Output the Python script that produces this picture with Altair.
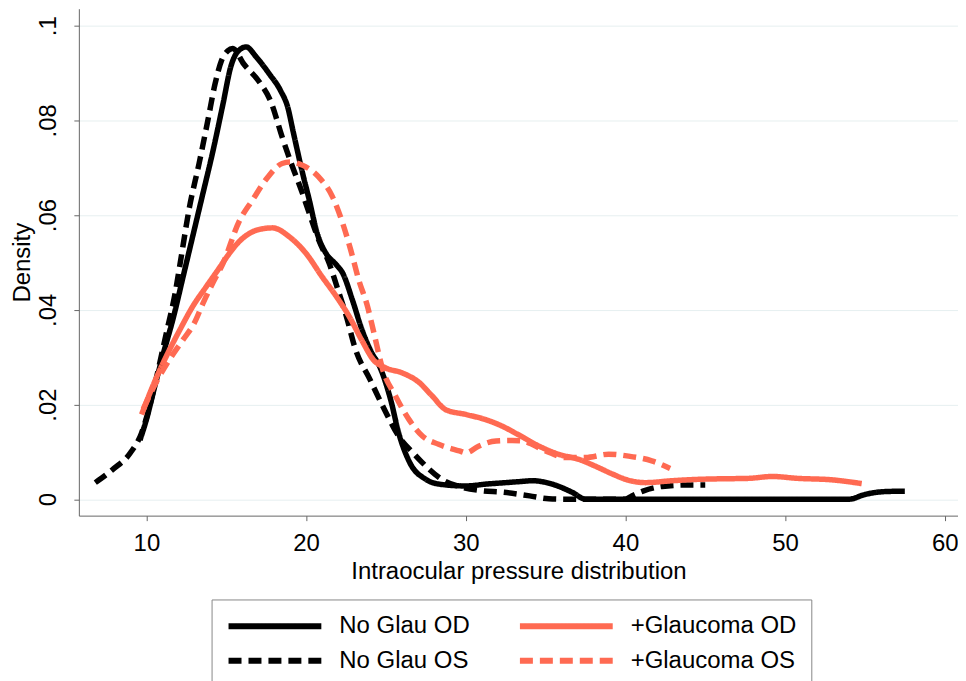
import altair as alt
import pandas as pd

series_names = ["No Glau OD", "No Glau OS", "+Glaucoma OD", "+Glaucoma OS"]

nog_od_x = [9.6, 10.0, 10.5, 11.0, 11.7, 12.3, 12.9, 13.5, 14.2, 14.8, 15.3, 15.8, 16.25, 16.9, 17.7,
            18.4, 18.85, 19.2, 19.7, 20.2, 20.7, 21.25, 21.9, 22.3, 22.9, 23.5, 24.1, 24.6, 25.3, 25.8,
            26.5, 27.5, 28.3, 30.0, 31.3, 32.5, 33.3, 34.2, 35.4, 36.7, 37.5, 40.0, 45.0, 50.0, 54.0,
            55.0, 56.2, 57.5]
nog_od_y = [0.0125, 0.0168, 0.0235, 0.030, 0.0385, 0.047, 0.0555, 0.064, 0.074, 0.0835, 0.0915,
            0.0948, 0.0955, 0.0933, 0.0898, 0.0863, 0.0828, 0.0775, 0.070, 0.0632, 0.0561, 0.0519,
            0.0495, 0.0477, 0.0421, 0.0358, 0.031, 0.0281, 0.021, 0.014, 0.0077, 0.0042, 0.0032,
            0.0028, 0.0032, 0.0035, 0.0037, 0.0039, 0.0032, 0.0014, 0.0, 0.0, 0.0, 0.0, 0.0,
            0.001, 0.0016, 0.0017]

nog_os_x = [6.8, 7.9, 9.0, 9.7, 10.2, 10.7, 11.25, 11.8, 12.1, 12.7, 13.3, 13.85, 14.3, 14.7, 15.1,
            15.4, 16.1, 17.1, 17.8, 18.5, 19.15, 19.7, 20.2, 20.8, 21.45, 22.0, 22.5, 23.1, 24.0,
            24.9, 25.8, 26.7, 27.5, 28.5, 29.8, 31.0, 32.3, 34.0, 35.2, 36.4, 40.0, 40.4, 41.1,
            42.3, 43.8, 45.0]
nog_os_y = [0.0035, 0.0063, 0.0098, 0.014, 0.0196, 0.0267, 0.0351, 0.0435, 0.0495, 0.0617, 0.0709,
            0.080, 0.0877, 0.0926, 0.0947, 0.0952, 0.0919, 0.088, 0.0839, 0.0765, 0.0702, 0.0653,
            0.0604, 0.0547, 0.0498, 0.0442, 0.0389, 0.0316, 0.0253, 0.019, 0.0133, 0.0098, 0.007,
            0.0042, 0.0025, 0.0018, 0.0015, 0.0007, 0.0001, 0.0, 0.0, 0.0007, 0.0017, 0.0027,
            0.003, 0.003]

glau_od_x = [9.7, 10.4, 11.25, 12.1, 12.9, 13.75, 14.6, 15.0, 15.9, 16.9, 17.9, 18.96, 20.0, 21.0,
             21.9, 22.7, 23.5, 24.2, 25.0, 26.0, 27.1, 27.9, 28.75, 30.0, 31.25, 32.3, 33.2, 34.6,
             35.8, 37.1, 38.1, 39.2, 40.0, 41.25, 42.9, 44.6, 45.8, 47.7, 49.2, 50.8, 52.9, 54.8]
glau_od_y = [0.0179, 0.0239, 0.0302, 0.0358, 0.0407, 0.0449, 0.049, 0.051, 0.0547, 0.0568, 0.0573,
             0.0554, 0.0519, 0.047, 0.0428, 0.0386, 0.0335, 0.0295, 0.0277, 0.0267, 0.0246, 0.0218,
             0.0189, 0.0179, 0.0168, 0.0154, 0.0138, 0.0112, 0.0095, 0.0084, 0.007, 0.0053, 0.0042,
             0.0035, 0.0039, 0.0042, 0.0043, 0.0044, 0.0048, 0.0044, 0.0041, 0.0033]

glau_os_x = [9.8, 10.6, 11.45, 12.3, 13.0, 13.55, 14.15, 14.8, 15.8, 16.65, 17.6, 18.5, 19.0, 19.8,
             20.8, 21.65, 22.3, 22.8, 23.3, 23.85, 24.25, 24.8, 25.6, 26.45, 27.3, 28.3, 29.6, 30.0,
             30.8, 31.9, 32.9, 33.5, 35.0, 36.25, 37.5, 38.95, 40.2, 41.65, 42.8]
glau_os_y = [0.019, 0.0246, 0.0295, 0.0337, 0.0372, 0.0414, 0.0456, 0.0498, 0.0586, 0.0632, 0.068,
             0.0709, 0.0712, 0.0705, 0.068, 0.0639, 0.0582, 0.0526, 0.0463, 0.0407, 0.0351, 0.0274,
             0.0218, 0.0168, 0.0133, 0.0116, 0.0102, 0.0098, 0.0112, 0.0123, 0.0124, 0.0123, 0.0102,
             0.0088, 0.0088, 0.0095, 0.0091, 0.0081, 0.0065]

x_ticks = [10, 20, 30, 40, 50, 60]
y_ticks = [0, 0.02, 0.04, 0.06, 0.08, 0.1]

rows = []
for name, xs, ys in [
    ("No Glau OD", nog_od_x, nog_od_y),
    ("No Glau OS", nog_os_x, nog_os_y),
    ("+Glaucoma OD", glau_od_x, glau_od_y),
    ("+Glaucoma OS", glau_os_x, glau_os_y),
]:
    for i, (xv, yv) in enumerate(zip(xs, ys)):
        rows.append({"series": name, "x": xv, "y": yv, "i": i})
df = pd.DataFrame(rows)

FONT = "Liberation Sans"
SALMON = "#ff6a52"
FS = 24

legend = alt.Legend(
    title=None,
    orient="none",
    legendX=133,
    legendY=592,
    columns=2,
    symbolType="M-5,0H5",
    symbolSize=346,
    symbolStrokeWidth=6,
    symbolOffset=37,
    labelFontSize=FS,
    labelFont=FONT,
    labelColor="black",
    labelOffset=52,
    labelLimit=0,
    columnPadding=37,
    rowPadding=10,
    padding=14,
    strokeColor="#888888",
    fillColor="white",
)

chart = (
    alt.Chart(df)
    .mark_line(strokeWidth=5.5, interpolate="monotone")
    .encode(
        x=alt.X(
            "x:Q",
            scale=alt.Scale(domain=[5.77, 60.83], nice=False, zero=False),
            axis=alt.Axis(
                values=x_ticks,
                title="Intraocular pressure distribution",
                grid=False,
                tickSize=5,
                labelPadding=11,
                labelFontSize=FS,
                titleFontSize=FS,
                titlePadding=4,
                labelFont=FONT,
                titleFont=FONT,
                titleFontWeight="normal",
                labelColor="black",
                titleColor="black",
                domainColor="#666666",
                tickColor="#666666",
            ),
        ),
        y=alt.Y(
            "y:Q",
            scale=alt.Scale(domain=[-0.00347, 0.10358], nice=False, zero=False),
            axis=alt.Axis(
                values=y_ticks,
                labelExpr="datum.value == 0 ? '0' : replace(format(datum.value, '.2~f'), '0.', '.')",
                title="Density",
                grid=True,
                gridColor="#e6eff0",
                gridWidth=1,
                tickSize=5,
                labelAngle=270,
                labelAlign="center",
                labelBaseline="bottom",
                labelPadding=13,
                labelFontSize=FS,
                titleFontSize=FS,
                titlePadding=2,
                labelFont=FONT,
                titleFont=FONT,
                titleFontWeight="normal",
                labelColor="black",
                titleColor="black",
                domainColor="#666666",
                tickColor="#666666",
            ),
        ),
        color=alt.Color(
            "series:N",
            scale=alt.Scale(domain=series_names, range=["black", "black", SALMON, SALMON]),
            legend=legend,
        ),
        strokeDash=alt.StrokeDash(
            "series:N",
            scale=alt.Scale(domain=series_names, range=[[1, 0], [13, 7], [1, 0], [13, 7]]),
            legend=legend,
        ),
        detail="series:N",
        order="i:Q",
    )
    .properties(
        width=881,
        height=508,
        autosize=alt.AutoSizeParams(type="none"),
        padding={"left": 71, "top": 0, "right": 0, "bottom": 165},
        background="white",
    )
    .configure_view(stroke=None)
)

chart.save("out.html", embed_options={"renderer": "svg", "actions": False})
